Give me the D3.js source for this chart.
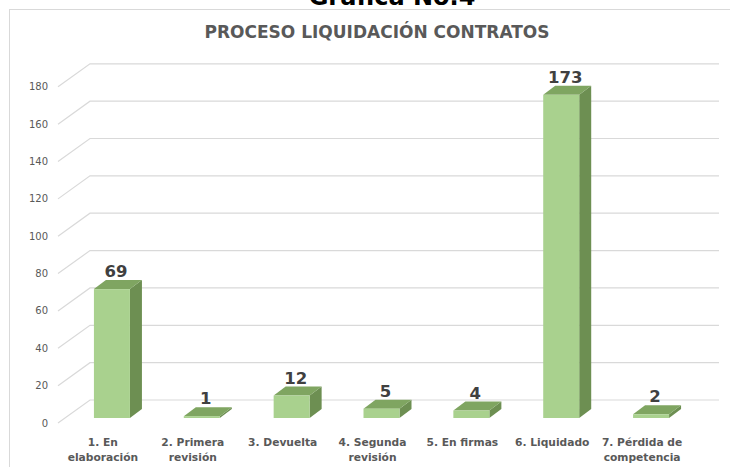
<!DOCTYPE html>
<html><head><meta charset="utf-8">
<script src="https://cdn.jsdelivr.net/npm/d3@7"></script>
<style>body{margin:0;background:#fff;} svg{display:block;}</style>
</head><body>
<script>
const categories = [["1. En","elaboración"],["2. Primera","revisión"],["3. Devuelta"],["4. Segunda","revisión"],["5. En firmas"],["6. Liquidado"],["7. Pérdida de","competencia"]];
const values = [69, 1, 12, 5, 4, 173, 2];
const yTicks = [0,20,40,60,80,100,120,140,160,180];
const title = "PROCESO LIQUIDACIÓN CONTRATOS";
const topTitle = "Gráfica No.4";

const W = 730, H = 467;
const svg = d3.select("body").append("svg").attr("width", W).attr("height", H);

svg.append("text").attr("x", 392).attr("y", 5).attr("text-anchor","middle")
  .attr("font-family","DejaVu Sans").attr("font-weight","bold").attr("font-size",24)
  .attr("fill","#000").text(topTitle);

svg.append("rect").attr("x",9.5).attr("y",9.5).attr("width",740).attr("height",480)
  .attr("fill","#fff").attr("stroke","#d9d9d9").attr("stroke-width",1);

svg.append("text").attr("x", 377).attr("y", 38).attr("text-anchor","middle")
  .attr("font-family","DejaVu Sans").attr("font-weight","bold").attr("font-size",17)
  .attr("fill","#595959").text(title);

const y = d3.scaleLinear().domain([0,180]).range([423, 86.8]);
const x = d3.scaleBand().domain(d3.range(categories.length)).range([58, 687]).padding(0);
const DX = 32, DY = -23;
const g = svg.append("g");

yTicks.forEach(t => {
  const yy = y(t);
  g.append("path").attr("d", `M${58},${yy}L${58+DX},${yy+DY}L${687+DX},${yy+DY}`)
    .attr("fill","none").attr("stroke","#d9d9d9").attr("stroke-width",1.2);
  g.append("text").attr("x",48).attr("y",yy).attr("dy","0.35em").attr("text-anchor","end")
    .attr("font-family","DejaVu Sans").attr("font-size",10).attr("fill","#595959").text(t);
});

const bOffX = 9, bOffY = -5, bw = 36, bdx = 12, bdy = -9;
values.forEach((v,i) => {
  const cx = x(i) + x.bandwidth()/2 + bOffX;
  const x0 = cx - bw/2, x1 = cx + bw/2;
  const yb = y(0) + bOffY, yt = y(v) + bOffY;
  g.append("path").attr("d",`M${x1},${yb}L${x1+bdx},${yb+bdy}L${x1+bdx},${yt+bdy}L${x1},${yt}Z`).attr("fill","#6d8f52");
  g.append("path").attr("d",`M${x0},${yt}L${x0+bdx},${yt+bdy}L${x1+bdx},${yt+bdy}L${x1},${yt}Z`).attr("fill","#7fa561");
  g.append("rect").attr("x",x0).attr("y",yt).attr("width",bw).attr("height",yb-yt).attr("fill","#a9d18e");
  g.append("text").attr("x",cx+4).attr("y",yt+bdy-3).attr("text-anchor","middle")
    .attr("font-family","DejaVu Sans").attr("font-weight","bold").attr("font-size",16.5)
    .attr("fill","#404040").text(v);
});

categories.forEach((lines,i) => {
  const cx = x(i) + x.bandwidth()/2;
  const t = g.append("text").attr("text-anchor","middle").attr("font-family","DejaVu Sans")
    .attr("font-weight","bold").attr("font-size",10.7).attr("fill","#595959");
  lines.forEach((l,j) => t.append("tspan").attr("x",cx).attr("y",446 + j*14.5).text(l));
});
</script>
</body></html>
